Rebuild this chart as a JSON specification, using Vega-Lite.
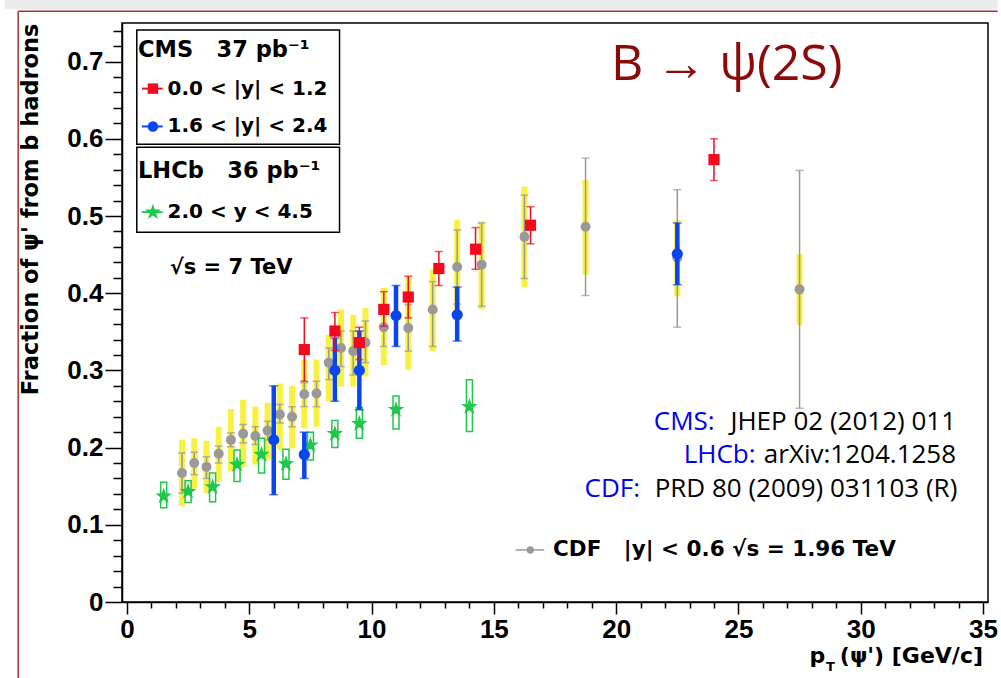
{
  "$schema": "https://vega.github.io/schema/vega-lite/v6.json",
  "width": 866,
  "height": 579,
  "autosize": {"type": "none"},
  "padding": {"left": 122, "top": 23, "right": 13, "bottom": 76},
  "background": "white",
  "resolve": {"axis": {"x": "independent", "y": "independent"}},
  "config": {
    "view": {"stroke": "black", "strokeWidth": 1.5},
    "axis": {"grid": false, "domainColor": "black", "domainWidth": 1.5, "tickColor": "black", "tickWidth": 1.5,
             "labelFont": "Liberation Sans", "labelFontWeight": "bold", "labelFontSize": 26, "labelColor": "black",
             "titleFont": "DejaVu Sans", "titleFontWeight": "bold", "titleFontSize": 22.5, "titleColor": "black"},
    "text": {"font": "DejaVu Sans", "fontWeight": "bold", "fontSize": 20, "color": "black"}
  },
  "datasets": {
    "cdf": [
      {"x": 2.25, "y": 0.167, "elo": 0.141, "ehi": 0.193, "slo": 0.124, "shi": 0.210},
      {"x": 2.75, "y": 0.180, "elo": 0.165, "ehi": 0.194, "slo": 0.147, "shi": 0.212},
      {"x": 3.25, "y": 0.175, "elo": 0.160, "ehi": 0.188, "slo": 0.141, "shi": 0.209},
      {"x": 3.75, "y": 0.192, "elo": 0.180, "ehi": 0.202, "slo": 0.156, "shi": 0.227},
      {"x": 4.25, "y": 0.210, "elo": 0.201, "ehi": 0.219, "slo": 0.169, "shi": 0.250},
      {"x": 4.75, "y": 0.218, "elo": 0.206, "ehi": 0.230, "slo": 0.175, "shi": 0.262},
      {"x": 5.25, "y": 0.215, "elo": 0.204, "ehi": 0.227, "slo": 0.178, "shi": 0.253},
      {"x": 5.75, "y": 0.222, "elo": 0.210, "ehi": 0.234, "slo": 0.184, "shi": 0.258},
      {"x": 6.25, "y": 0.243, "elo": 0.232, "ehi": 0.256, "slo": 0.197, "shi": 0.283},
      {"x": 6.75, "y": 0.240, "elo": 0.227, "ehi": 0.253, "slo": 0.199, "shi": 0.280},
      {"x": 7.25, "y": 0.269, "elo": 0.253, "ehi": 0.284, "slo": 0.225, "shi": 0.314},
      {"x": 7.75, "y": 0.270, "elo": 0.253, "ehi": 0.286, "slo": 0.227, "shi": 0.314},
      {"x": 8.25, "y": 0.310, "elo": 0.288, "ehi": 0.329, "slo": 0.260, "shi": 0.346},
      {"x": 8.75, "y": 0.329, "elo": 0.305, "ehi": 0.351, "slo": 0.279, "shi": 0.379},
      {"x": 9.25, "y": 0.325, "elo": 0.294, "ehi": 0.351, "slo": 0.279, "shi": 0.372},
      {"x": 9.75, "y": 0.336, "elo": 0.310, "ehi": 0.364, "slo": 0.292, "shi": 0.381},
      {"x": 10.5, "y": 0.356, "elo": 0.331, "ehi": 0.381, "slo": 0.307, "shi": 0.407},
      {"x": 11.5, "y": 0.355, "elo": 0.325, "ehi": 0.385, "slo": 0.301, "shi": 0.422},
      {"x": 12.5, "y": 0.379, "elo": 0.331, "ehi": 0.415, "slo": 0.325, "shi": 0.431},
      {"x": 13.5, "y": 0.434, "elo": 0.386, "ehi": 0.482, "slo": 0.373, "shi": 0.495},
      {"x": 14.5, "y": 0.437, "elo": 0.383, "ehi": 0.491, "slo": 0.379, "shi": 0.493},
      {"x": 16.25, "y": 0.473, "elo": 0.419, "ehi": 0.527, "slo": 0.408, "shi": 0.538},
      {"x": 18.75, "y": 0.486, "elo": 0.397, "ehi": 0.575, "slo": 0.424, "shi": 0.547},
      {"x": 22.5, "y": 0.446, "elo": 0.356, "ehi": 0.534, "slo": 0.396, "shi": 0.495},
      {"x": 27.5, "y": 0.405, "elo": 0.251, "ehi": 0.559, "slo": 0.359, "shi": 0.451}
    ],
    "lhcb": [
      {"x": 1.5, "y": 0.137, "lo": 0.122, "hi": 0.155},
      {"x": 2.5, "y": 0.143, "lo": 0.129, "hi": 0.157},
      {"x": 3.5, "y": 0.149, "lo": 0.130, "hi": 0.167},
      {"x": 4.5, "y": 0.178, "lo": 0.156, "hi": 0.197},
      {"x": 5.5, "y": 0.191, "lo": 0.167, "hi": 0.212},
      {"x": 6.5, "y": 0.179, "lo": 0.159, "hi": 0.198},
      {"x": 7.5, "y": 0.203, "lo": 0.184, "hi": 0.220},
      {"x": 8.5, "y": 0.218, "lo": 0.200, "hi": 0.235},
      {"x": 9.5, "y": 0.231, "lo": 0.212, "hi": 0.252},
      {"x": 11.0, "y": 0.249, "lo": 0.224, "hi": 0.267},
      {"x": 14.0, "y": 0.253, "lo": 0.221, "hi": 0.288}
    ],
    "cmsred": [
      {"x": 7.25, "y": 0.327, "lo": 0.286, "hi": 0.368},
      {"x": 8.5, "y": 0.351, "lo": 0.326, "hi": 0.375},
      {"x": 9.5, "y": 0.336, "lo": 0.314, "hi": 0.356},
      {"x": 10.5, "y": 0.379, "lo": 0.357, "hi": 0.402},
      {"x": 11.5, "y": 0.395, "lo": 0.368, "hi": 0.422},
      {"x": 12.75, "y": 0.432, "lo": 0.410, "hi": 0.454},
      {"x": 14.25, "y": 0.457, "lo": 0.431, "hi": 0.485},
      {"x": 16.5, "y": 0.488, "lo": 0.464, "hi": 0.512},
      {"x": 24.0, "y": 0.573, "lo": 0.546, "hi": 0.600}
    ],
    "cmsblue": [
      {"x": 6.0, "y": 0.210, "lo": 0.139, "hi": 0.280},
      {"x": 7.25, "y": 0.191, "lo": 0.160, "hi": 0.220},
      {"x": 8.5, "y": 0.300, "lo": 0.260, "hi": 0.342},
      {"x": 9.5, "y": 0.300, "lo": 0.249, "hi": 0.351},
      {"x": 11.0, "y": 0.371, "lo": 0.331, "hi": 0.410},
      {"x": 13.5, "y": 0.372, "lo": 0.338, "hi": 0.408},
      {"x": 22.5, "y": 0.451, "lo": 0.411, "hi": 0.491}
    ]
  },
  "layer": [
    {
      "data": {"values": [{}]},
      "mark": {"type": "rule", "color": "#ececec", "strokeWidth": 10},
      "encoding": {"x": {"datum": -5.0, "type": "quantitative", "axis": null}, "x2": {"datum": 35.6}, "y": {"datum": 0.7743, "type": "quantitative", "axis": null}}
    },
    {
      "data": {"values": [{}]},
      "mark": {"type": "rule", "color": "#a83232", "strokeWidth": 1.5},
      "encoding": {"x": {"datum": -4.45, "type": "quantitative", "axis": null}, "x2": {"datum": 35.6}, "y": {"datum": 0.7652, "type": "quantitative", "axis": null}}
    },
    {
      "data": {"values": [{}]},
      "mark": {"type": "rule", "color": "#a83232", "strokeWidth": 1.5},
      "encoding": {"x": {"datum": -4.45, "type": "quantitative", "axis": null}, "y": {"datum": 0.7652, "type": "quantitative", "axis": null}, "y2": {"datum": -0.1}}
    },
    {
      "data": {"name": "cdf"},
      "mark": {"type": "bar", "color": "#f9f142", "size": 6},
      "encoding": {
        "x": {"field": "x", "type": "quantitative", "scale": {"domain": [0, 35], "nice": false, "zero": false},
              "axis": {"orient": "bottom", "values": [0, 5, 10, 15, 20, 25, 30, 35], "tickSize": 12, "labelPadding": 2, "title": null}},
        "y": {"field": "slo", "type": "quantitative", "scale": {"domain": [0, 0.75], "nice": false, "zero": false},
              "axis": {"orient": "left", "values": [0, 0.1, 0.2, 0.3, 0.4, 0.5, 0.6, 0.7],
                       "labelExpr": "datum.value == 0 ? '0' : format(datum.value, '.1f')",
                       "tickSize": 17, "labelPadding": 2,
                       "title": "Fraction of ψ' from b hadrons", "titleAnchor": "end", "titleAngle": 270,
                       "titleX": -92, "titleY": 0, "titleAlign": "right", "titleBaseline": "middle"}},
        "y2": {"field": "shi"}
      }
    },
    {
      "data": {"name": "cdf"},
      "mark": {"type": "errorbar", "color": "#999999", "thickness": 1.5, "ticks": {"size": 8, "color": "#999999"}},
      "encoding": {
        "x": {"field": "x", "type": "quantitative", "axis": null},
        "y": {"field": "elo", "type": "quantitative", "axis": null},
        "y2": {"field": "ehi"}
      }
    },
    {
      "data": {"name": "cdf"},
      "mark": {"type": "point", "shape": "circle", "filled": true, "color": "#999999", "opacity": 1, "size": 100},
      "encoding": {
        "x": {"field": "x", "type": "quantitative",
              "axis": {"orient": "bottom", "values": [1,2,3,4,6,7,8,9,11,12,13,14,16,17,18,19,21,22,23,24,26,27,28,29,31,32,33,34],
                       "tickSize": 6, "labels": false, "domain": false, "title": null}},
        "y": {"field": "y", "type": "quantitative",
              "axis": {"orient": "left", "values": [0.02,0.04,0.06,0.08,0.12,0.14,0.16,0.18,0.22,0.24,0.26,0.28,0.32,0.34,0.36,0.38,0.42,0.44,0.46,0.48,0.52,0.54,0.56,0.58,0.62,0.64,0.66,0.68,0.72,0.74],
                       "tickSize": 9, "labels": false, "domain": false, "title": null}}
      }
    },
    {
      "data": {"name": "lhcb"},
      "mark": {"type": "bar", "fill": "transparent", "stroke": "#1ec84b", "strokeWidth": 1.5, "size": 6},
      "encoding": {
        "x": {"field": "x", "type": "quantitative", "axis": null},
        "y": {"field": "lo", "type": "quantitative", "axis": null},
        "y2": {"field": "hi"}
      }
    },
    {
      "data": {"name": "lhcb"},
      "mark": {"type": "point", "shape": "M0,-1L0.235,-0.324L0.951,-0.309L0.38,0.124L0.588,0.809L0,0.4L-0.588,0.809L-0.38,0.124L-0.951,-0.309L-0.235,-0.324Z", "filled": true, "color": "#1ec84b", "opacity": 1, "size": 300},
      "encoding": {
        "x": {"field": "x", "type": "quantitative", "axis": null},
        "y": {"field": "y", "type": "quantitative", "axis": null}
      }
    },
    {
      "data": {"name": "cmsblue"},
      "mark": {"type": "rule", "color": "#0a46ee", "strokeWidth": 4.5},
      "encoding": {
        "x": {"field": "x", "type": "quantitative", "axis": null},
        "y": {"field": "lo", "type": "quantitative", "axis": null},
        "y2": {"field": "hi"}
      }
    },
    {
      "data": {"name": "cmsblue"},
      "mark": {"type": "errorbar", "color": "#0a46ee", "thickness": 1.5, "ticks": {"size": 9, "color": "#0a46ee"}},
      "encoding": {
        "x": {"field": "x", "type": "quantitative", "axis": null},
        "y": {"field": "lo", "type": "quantitative", "axis": null},
        "y2": {"field": "hi"}
      }
    },
    {
      "data": {"name": "cmsblue"},
      "mark": {"type": "point", "shape": "circle", "filled": true, "color": "#0a46ee", "opacity": 1, "size": 125},
      "encoding": {
        "x": {"field": "x", "type": "quantitative", "axis": null},
        "y": {"field": "y", "type": "quantitative", "axis": null}
      }
    },
    {
      "data": {"name": "cmsred"},
      "mark": {"type": "errorbar", "color": "#f20a1e", "thickness": 1.5, "ticks": {"size": 8, "color": "#f20a1e"}},
      "encoding": {
        "x": {"field": "x", "type": "quantitative", "axis": null},
        "y": {"field": "lo", "type": "quantitative", "axis": null},
        "y2": {"field": "hi"}
      }
    },
    {
      "data": {"name": "cmsred"},
      "mark": {"type": "point", "shape": "square", "filled": true, "color": "#f20a1e", "opacity": 1, "size": 125},
      "encoding": {
        "x": {"field": "x", "type": "quantitative", "axis": null},
        "y": {"field": "y", "type": "quantitative", "axis": null}
      }
    },
    {
      "data": {"values": [{}]},
      "mark": {"type": "rect", "fill": "transparent", "stroke": "black", "strokeWidth": 1.5},
      "encoding": {
        "x": {"datum": 0.40, "type": "quantitative", "axis": null}, "x2": {"datum": 8.69},
        "y": {"datum": 0.741, "type": "quantitative", "axis": null}, "y2": {"datum": 0.593}
      }
    },
    {
      "data": {"values": [{}]},
      "mark": {"type": "rect", "fill": "transparent", "stroke": "black", "strokeWidth": 1.5},
      "encoding": {
        "x": {"datum": 0.40, "type": "quantitative", "axis": null}, "x2": {"datum": 8.69},
        "y": {"datum": 0.589, "type": "quantitative", "axis": null}, "y2": {"datum": 0.479}
      }
    },
    {
      "data": {"values": [{}]},
      "mark": {"type": "text", "text": "CMS\u00a0\u00a0\u00a037 pb⁻¹", "align": "left", "baseline": "middle", "fontSize": 22.5},
      "encoding": {"x": {"datum": 0.45, "type": "quantitative", "axis": null}, "y": {"datum": 0.715, "type": "quantitative", "axis": null}}
    },
    {
      "data": {"values": [{}]},
      "mark": {"type": "rule", "color": "#f20a1e", "strokeWidth": 2},
      "encoding": {"x": {"datum": 0.61, "type": "quantitative", "axis": null}, "x2": {"datum": 1.46}, "y": {"datum": 0.665, "type": "quantitative", "axis": null}}
    },
    {
      "data": {"values": [{}]},
      "mark": {"type": "point", "shape": "square", "filled": true, "color": "#f20a1e", "opacity": 1, "size": 110},
      "encoding": {"x": {"datum": 1.06, "type": "quantitative", "axis": null}, "y": {"datum": 0.665, "type": "quantitative", "axis": null}}
    },
    {
      "data": {"values": [{}]},
      "mark": {"type": "text", "text": "0.0 < |y| < 1.2", "align": "left", "baseline": "middle"},
      "encoding": {"x": {"datum": 1.66, "type": "quantitative", "axis": null}, "y": {"datum": 0.665, "type": "quantitative", "axis": null}}
    },
    {
      "data": {"values": [{}]},
      "mark": {"type": "rule", "color": "#0a46ee", "strokeWidth": 2},
      "encoding": {"x": {"datum": 0.61, "type": "quantitative", "axis": null}, "x2": {"datum": 1.46}, "y": {"datum": 0.616, "type": "quantitative", "axis": null}}
    },
    {
      "data": {"values": [{}]},
      "mark": {"type": "point", "shape": "circle", "filled": true, "color": "#0a46ee", "opacity": 1, "size": 110},
      "encoding": {"x": {"datum": 1.06, "type": "quantitative", "axis": null}, "y": {"datum": 0.616, "type": "quantitative", "axis": null}}
    },
    {
      "data": {"values": [{}]},
      "mark": {"type": "text", "text": "1.6 < |y| < 2.4", "align": "left", "baseline": "middle"},
      "encoding": {"x": {"datum": 1.66, "type": "quantitative", "axis": null}, "y": {"datum": 0.616, "type": "quantitative", "axis": null}}
    },
    {
      "data": {"values": [{}]},
      "mark": {"type": "text", "text": "LHCb\u00a0\u00a0\u00a036 pb⁻¹", "align": "left", "baseline": "middle", "fontSize": 22.5},
      "encoding": {"x": {"datum": 0.45, "type": "quantitative", "axis": null}, "y": {"datum": 0.558, "type": "quantitative", "axis": null}}
    },
    {
      "data": {"values": [{}]},
      "mark": {"type": "rule", "color": "#1ec84b", "strokeWidth": 2},
      "encoding": {"x": {"datum": 0.61, "type": "quantitative", "axis": null}, "x2": {"datum": 1.46}, "y": {"datum": 0.505, "type": "quantitative", "axis": null}}
    },
    {
      "data": {"values": [{}]},
      "mark": {"type": "point", "shape": "M0,-1L0.235,-0.324L0.951,-0.309L0.38,0.124L0.588,0.809L0,0.4L-0.588,0.809L-0.38,0.124L-0.951,-0.309L-0.235,-0.324Z", "filled": true, "color": "#1ec84b", "opacity": 1, "size": 280},
      "encoding": {"x": {"datum": 1.06, "type": "quantitative", "axis": null}, "y": {"datum": 0.505, "type": "quantitative", "axis": null}}
    },
    {
      "data": {"values": [{}]},
      "mark": {"type": "text", "text": "2.0 < y < 4.5", "align": "left", "baseline": "middle"},
      "encoding": {"x": {"datum": 1.66, "type": "quantitative", "axis": null}, "y": {"datum": 0.505, "type": "quantitative", "axis": null}}
    },
    {
      "data": {"values": [{}]},
      "mark": {"type": "text", "text": "√s = 7 TeV", "align": "left", "baseline": "middle", "fontSize": 21},
      "encoding": {"x": {"datum": 1.75, "type": "quantitative", "axis": null}, "y": {"datum": 0.433, "type": "quantitative", "axis": null}}
    },
    {
      "data": {"values": [{}]},
      "mark": {"type": "text", "text": "B → ψ(2S)", "align": "left", "baseline": "middle", "font": "Open Sans", "fontWeight": "normal", "fontSize": 50, "color": "#8b0a0a"},
      "encoding": {"x": {"datum": 19.79, "type": "quantitative", "axis": null}, "y": {"datum": 0.695, "type": "quantitative", "axis": null}}
    },
    {
      "data": {"values": [{}]},
      "mark": {"type": "text", "text": "CMS:", "align": "left", "baseline": "middle", "font": "Open Sans", "fontWeight": "normal", "fontSize": 26, "color": "#0000ee"},
      "encoding": {"x": {"datum": 21.54, "type": "quantitative", "axis": null}, "y": {"datum": 0.2335, "type": "quantitative", "axis": null}}
    },
    {
      "data": {"values": [{}]},
      "mark": {"type": "text", "text": "JHEP 02 (2012) 011", "align": "right", "baseline": "middle", "font": "Open Sans", "fontWeight": "normal", "fontSize": 26, "color": "black"},
      "encoding": {"x": {"datum": 33.9, "type": "quantitative", "axis": null}, "y": {"datum": 0.2335, "type": "quantitative", "axis": null}}
    },
    {
      "data": {"values": [{}]},
      "mark": {"type": "text", "text": "LHCb:", "align": "left", "baseline": "middle", "font": "Open Sans", "fontWeight": "normal", "fontSize": 26, "color": "#0000ee"},
      "encoding": {"x": {"datum": 22.76, "type": "quantitative", "axis": null}, "y": {"datum": 0.1907, "type": "quantitative", "axis": null}}
    },
    {
      "data": {"values": [{}]},
      "mark": {"type": "text", "text": "arXiv:1204.1258", "align": "right", "baseline": "middle", "font": "Open Sans", "fontWeight": "normal", "fontSize": 26, "color": "black"},
      "encoding": {"x": {"datum": 33.9, "type": "quantitative", "axis": null}, "y": {"datum": 0.1907, "type": "quantitative", "axis": null}}
    },
    {
      "data": {"values": [{}]},
      "mark": {"type": "text", "text": "CDF:", "align": "left", "baseline": "middle", "font": "Open Sans", "fontWeight": "normal", "fontSize": 26, "color": "#0000ee"},
      "encoding": {"x": {"datum": 18.71, "type": "quantitative", "axis": null}, "y": {"datum": 0.1466, "type": "quantitative", "axis": null}}
    },
    {
      "data": {"values": [{}]},
      "mark": {"type": "text", "text": "PRD 80 (2009) 031103 (R)", "align": "right", "baseline": "middle", "font": "Open Sans", "fontWeight": "normal", "fontSize": 26, "color": "black"},
      "encoding": {"x": {"datum": 33.95, "type": "quantitative", "axis": null}, "y": {"datum": 0.1466, "type": "quantitative", "axis": null}}
    },
    {
      "data": {"values": [{}]},
      "mark": {"type": "rule", "color": "#999999", "strokeWidth": 1.5},
      "encoding": {"x": {"datum": 15.89, "type": "quantitative", "axis": null}, "x2": {"datum": 17.06}, "y": {"datum": 0.0674, "type": "quantitative", "axis": null}}
    },
    {
      "data": {"values": [{}]},
      "mark": {"type": "point", "shape": "circle", "filled": true, "color": "#999999", "opacity": 1, "size": 55},
      "encoding": {"x": {"datum": 16.49, "type": "quantitative", "axis": null}, "y": {"datum": 0.0674, "type": "quantitative", "axis": null}}
    },
    {
      "data": {"values": [{}]},
      "mark": {"type": "text", "text": "CDF\u00a0\u00a0\u00a0|y| < 0.6 √s = 1.96 TeV", "align": "left", "baseline": "middle", "fontSize": 21.5},
      "encoding": {"x": {"datum": 17.42, "type": "quantitative", "axis": null}, "y": {"datum": 0.0674, "type": "quantitative", "axis": null}}
    },
    {
      "data": {"values": [{}]},
      "mark": {"type": "text", "text": "(ψ') [GeV/c]", "align": "right", "baseline": "alphabetic", "fontSize": 22},
      "encoding": {"x": {"datum": 35, "type": "quantitative", "axis": null}, "y": {"datum": -0.079, "type": "quantitative", "axis": null}}
    },
    {
      "data": {"values": [{}]},
      "mark": {"type": "text", "text": "p", "align": "right", "baseline": "alphabetic", "fontSize": 22},
      "encoding": {"x": {"datum": 28.55, "type": "quantitative", "axis": null}, "y": {"datum": -0.079, "type": "quantitative", "axis": null}}
    },
    {
      "data": {"values": [{}]},
      "mark": {"type": "text", "text": "T", "align": "left", "baseline": "alphabetic", "fontSize": 13},
      "encoding": {"x": {"datum": 28.58, "type": "quantitative", "axis": null}, "y": {"datum": -0.09, "type": "quantitative", "axis": null}}
    }
  ]
}
